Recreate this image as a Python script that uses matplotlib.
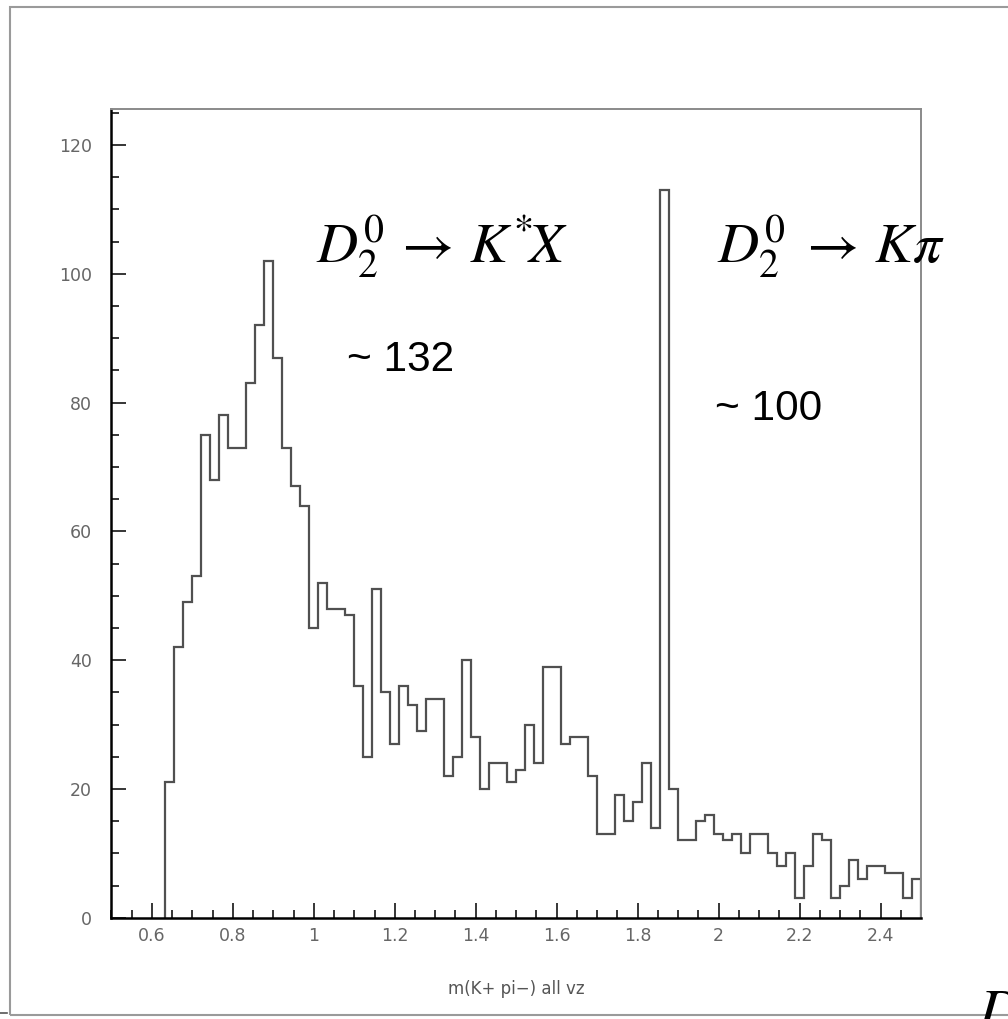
import numpy as np
import matplotlib
matplotlib.use("Agg")
import matplotlib.pyplot as plt
from matplotlib.ticker import MultipleLocator, FormatStrFormatter
from matplotlib.patches import Rectangle
from matplotlib.lines import Line2D

plt.rcParams['mathtext.fontset'] = 'stix'

# histogram booking: 90 bins over [0.5, 2.5], first 6 bins empty
hist_lo, hist_hi, n_bins = 0.5, 2.5, 90
first_bin = 6
counts = [21, 42, 49, 53, 75, 68, 78, 73, 73, 83,
          92, 102, 87, 73, 67, 64, 45, 52, 48, 48,
          47, 36, 25, 51, 35, 27, 36, 33, 29, 34,
          34, 22, 25, 40, 28, 20, 24, 24, 21, 23,
          30, 24, 39, 39, 27, 28, 28, 22, 13, 13,
          19, 15, 18, 24, 14, 113, 20, 12, 12, 15,
          16, 13, 12, 13, 10, 13, 13, 10, 8, 10,
          3, 8, 13, 12, 3, 5, 9, 6, 8, 8,
          7, 7, 3, 6]
x_label = 'm(K+ pi\u2212) all vz'
label_left = r'$D_2^0\,\rightarrow\,K^{*}\!X$'
label_right = r'$D_2^0\;\rightarrow\,K\pi$'
yield_left = '~ 132'
yield_right = '~ 100'

edges = np.linspace(hist_lo, hist_hi, n_bins + 1)[first_bin:]

W, H = 1008, 1019
fig = plt.figure(figsize=(W / 100, H / 100), dpi=100)

# outer slide frame
fig.add_artist(Rectangle((10 / W, 1 - 1015 / H), 1.2, (1015 - 7) / H,
                         transform=fig.transFigure, fill=False,
                         edgecolor='#9a9a9a', lw=1.5))
fig.add_artist(Line2D([0, 7 / W], [1 - 1013 / H] * 2, transform=fig.transFigure,
                      color='#555555', lw=1.2))

ax = fig.add_axes([111.4 / W, 1 - 917.7 / H, (921 - 111.4) / W, (917.7 - 109) / H])
ax.stairs(counts, edges, baseline=0, fill=False, color='#505050', lw=1.6)

ax.set_xlim(hist_lo, hist_hi)
ax.set_ylim(0, 125.6)

for s in ['left', 'bottom']:
    ax.spines[s].set_color('black')
    ax.spines[s].set_linewidth(1.8)
for s in ['top', 'right']:
    ax.spines[s].set_color('#8a8a8a')
    ax.spines[s].set_linewidth(1.4)

ax.xaxis.set_major_locator(MultipleLocator(0.2))
ax.xaxis.set_minor_locator(MultipleLocator(0.05))
ax.yaxis.set_major_locator(MultipleLocator(20))
ax.yaxis.set_minor_locator(MultipleLocator(5))
ax.xaxis.set_major_formatter(FormatStrFormatter('%g'))
ax.tick_params(which='both', direction='in', top=False, right=False,
               width=1.1, color='black', labelcolor='#666666', labelsize=12.5)
ax.tick_params(which='major', length=10.5)
ax.tick_params(which='minor', length=5.5)
ax.tick_params(axis='y', pad=14)
ax.tick_params(axis='x', pad=6.5)

ax.set_xlabel(x_label, fontsize=12, color='#555555')
ax.xaxis.set_label_coords(0.5, -0.077)

ax.text(1.0046, 101.7, label_left, fontsize=41, ha='left', va='baseline')
ax.text(1.996, 101.7, label_right, fontsize=41, ha='left', va='baseline')
ax.text(1.083, 84.9, yield_left, fontsize=30.5, family='Liberation Sans',
        ha='left', va='baseline')
ax.text(1.991, 77.3, yield_right, fontsize=30.5, family='Liberation Sans',
        ha='left', va='baseline')

# cut-off glyph from the slide at the bottom right
fig.text(978 / W, 1 - 985 / H, r'$D$', fontsize=41, ha='left', va='top')

plt.savefig('out.png', dpi=100)
